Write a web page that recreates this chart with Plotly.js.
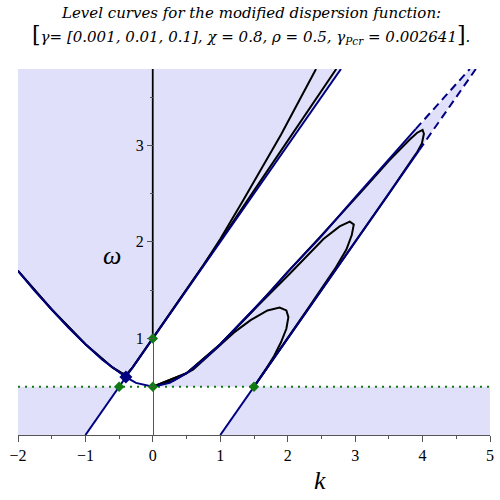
<!DOCTYPE html>
<html>
<head>
<meta charset="utf-8">
<script src="https://cdn.plot.ly/plotly-3.0.1.min.js"></script>
<style>html,body{margin:0;padding:0;background:#fff}</style>
</head>
<body>
<div id="chart" style="width:500px;height:500px"></div>
<script>
// level curves of the modified dispersion function
const xMin = -2, xMax = 5, yTop = 3.79, level = 0.5;

// navy (undamped) branches
const leftK = [-2, -1.75, -1.5, -1.25, -1, -0.75, -0.5, -0.4];
const leftW = [1.70, 1.49, 1.30, 1.11, 0.94, 0.78, 0.65, 0.60];
const dipK = [-0.4, -0.25, 0];
const dipW = [0.60, 0.54, 0.50];
const rightK = [0, 0.25, 0.5, 0.75, 1, 1.25, 1.5, 1.75, 2, 2.5, 3, 3.5, 3.9];
const rightW = [0.50, 0.54, 0.64, 0.78, 0.94, 1.12, 1.30, 1.49, 1.69, 2.06, 2.46, 2.85, 3.17];
const rightDashK = [3.9, 4.3, 4.7];
const rightDashW = [3.17, 3.48, 3.79];
const upLineK = [-1, 2.79];
const upLineW = [0, 3.79];
const lowLineK = [1, 3.95];
const lowLineW = [0, 2.95];
const lowDashK = [3.95, 4.79];
const lowDashW = [2.95, 3.79];

// black level curves
const nearK = [-2, -1.5, -1, -0.6, -0.45, -0.38, -0.3, 0, 0.5, 1, 1.5, 2, 2.72];
const nearW = [1.70, 1.30, 0.94, 0.70, 0.635, 0.635, 0.70, 1.0, 1.5, 2.01, 2.53, 3.05, 3.79];
const steepK = [-2, -1.5, -1, -0.6, -0.45, -0.38, -0.3, 0, 0.5, 0.75, 1.0, 1.34, 1.9, 2.42];
const steepW = [1.70, 1.30, 0.94, 0.70, 0.635, 0.635, 0.70, 1.0, 1.5, 1.76, 2.03, 2.43, 3.11, 3.79];
const axisK = [0, 0];
const axisW = [1, 3.79];
const t1K = [0, 0.3, 0.6, 0.9, 1.2, 1.45, 1.7, 1.88, 1.98, 2.01, 1.98, 1.9, 1.8, 1.7, 1.6, 1.5];
const t1W = [0.50, 0.56, 0.68, 0.87, 1.06, 1.19, 1.29, 1.32, 1.29, 1.22, 1.10, 0.96, 0.82, 0.71, 0.60, 0.50];
const t2K = [0, 0.5, 1, 1.5, 2.03, 2.28, 2.53, 2.77, 2.92, 2.98, 2.95, 2.87, 2.7, 2.3, 1.8, 1.5];
const t2W = [0.50, 0.64, 0.94, 1.30, 1.67, 1.85, 2.03, 2.16, 2.21, 2.18, 2.07, 1.92, 1.72, 1.31, 0.80, 0.50];
const t3K = [0, 0.5, 1, 1.5, 2, 2.48, 3.17, 3.5, 3.81, 3.92, 4.0, 4.02, 3.99, 3.92, 3.85, 3.5, 3, 2.5, 2, 1.5];
const t3W = [0.50, 0.64, 0.94, 1.30, 1.69, 2.05, 2.58, 2.84, 3.06, 3.13, 3.16, 3.12, 3.02, 2.93, 2.86, 2.5, 2.0, 1.5, 1.0, 0.5];

// marked points
const greenK = [0, 0, -0.5, 1.5];
const greenW = [1, 0.5, 0.5, 0.5];
const blueK = [-0.40];
const blueW = [0.60];

const shade = "rgb(224,224,250)";
const navy = "#000080";
const green = "#127a12";
const serif = "Liberation Serif, Times New Roman, Times, serif";
const titleFont = { family: "DejaVu Serif, serif", size: 15, color: "#000" };

function fillTrace(x, y) {
  return { x, y, type: "scatter", mode: "lines", fill: "toself", fillcolor: shade,
           line: { width: 0 }, hoverinfo: "skip", showlegend: false };
}
function lineTrace(x, y, color, dash, width) {
  return { x, y, type: "scatter", mode: "lines", line: { color, width: width || 2, dash: dash || "solid" },
           hoverinfo: "skip", showlegend: false };
}

const traces = [
  // shaded regions
  fillTrace([...leftK, upLineK[1], xMin], [...leftW, upLineW[1], yTop]),
  fillTrace([xMin, upLineK[0], greenK[2], xMin], [0, 0, level, level]),
  fillTrace([...rightK, ...rightDashK.slice(1), lowDashK[1], greenK[3]],
            [...rightW, ...rightDashW.slice(1), lowDashW[1], level]),
  fillTrace([lowLineK[0], xMax, xMax, greenK[3]], [0, 0, level, level]),
  // dotted level line
  lineTrace([xMin, xMax], [level, level], green, "2px,5px", 2),
  // black level curves
  lineTrace(nearK, nearW, "black"),
  lineTrace(steepK, steepW, "black"),
  lineTrace(axisK, axisW, "black"),
  lineTrace(t1K, t1W, "black"),
  lineTrace(t2K, t2W, "black"),
  lineTrace(t3K, t3W, "black"),
  // navy branches
  lineTrace(leftK, leftW, navy),
  lineTrace(dipK, dipW, navy),
  lineTrace(rightK, rightW, navy),
  lineTrace(rightDashK, rightDashW, navy, "8px,5px"),
  lineTrace(upLineK, upLineW, navy),
  lineTrace(lowLineK, lowLineW, navy),
  lineTrace(lowDashK, lowDashW, navy, "8px,5px"),
  // points
  { x: greenK, y: greenW, type: "scatter", mode: "markers", hoverinfo: "skip", showlegend: false,
    marker: { symbol: "diamond", size: 8, color: green } },
  { x: blueK, y: blueW, type: "scatter", mode: "markers", hoverinfo: "skip", showlegend: false,
    marker: { symbol: "diamond", size: 10, color: navy } }
];

const tickFont = { family: serif, size: 16, color: "#000" };

Plotly.newPlot("chart", traces, {
  width: 500,
  height: 500,
  margin: { l: 18, r: 10, t: 69, b: 65 },
  paper_bgcolor: "#fff",
  plot_bgcolor: "#fff",
  showlegend: false,
  xaxis: {
    range: [xMin, xMax],
    dtick: 1,
    showgrid: false, zeroline: false,
    showline: true, linecolor: "#555", linewidth: 1,
    ticks: "outside", ticklen: 6, tickcolor: "#555",
    minor: { dtick: 0.5, ticks: "outside", ticklen: 3, tickcolor: "#555" },
    tickfont: tickFont
  },
  yaxis: {
    range: [0, yTop],
    tickvals: [1, 2, 3],
    anchor: "free",
    position: (0 - xMin) / (xMax - xMin),
    showgrid: false, zeroline: false,
    showline: true, linecolor: "#555", linewidth: 1,
    ticks: "outside", ticklen: 6, tickcolor: "#555",
    minor: { dtick: 0.5, ticks: "outside", ticklen: 3, tickcolor: "#555" },
    tickfont: tickFont
  },
  annotations: [
    { text: "<i>Level curves for the modified dispersion function:</i>",
      xref: "paper", yref: "paper", x: 0.494, y: 1.153, xanchor: "center", yanchor: "middle",
      showarrow: false, font: titleFont },
    { text: "<span style='font-size:22px'>[</span><i>γ= [0.001, 0.01, 0.1], χ = 0.8, ρ = 0.5, γ<sub>Pcr</sub> = 0.002641</i><span style='font-size:22px'>]</span><i>.</i>",
      xref: "paper", yref: "paper", x: 0.494, y: 1.095, xanchor: "center", yanchor: "middle",
      showarrow: false, font: titleFont },
    { text: "<i>k</i>", xref: "paper", yref: "paper", x: 0.64, y: -0.123,
      xanchor: "center", yanchor: "middle", showarrow: false,
      font: { family: serif, size: 26, color: "#000" } },
    { text: "<i>ω</i>", xref: "paper", yref: "paper", x: 0.199, y: 0.49,
      xanchor: "center", yanchor: "middle", showarrow: false,
      font: { family: serif, size: 26, color: "#000" } }
  ]
}, { displayModeBar: false, staticPlot: true });
</script>
</body>
</html>
